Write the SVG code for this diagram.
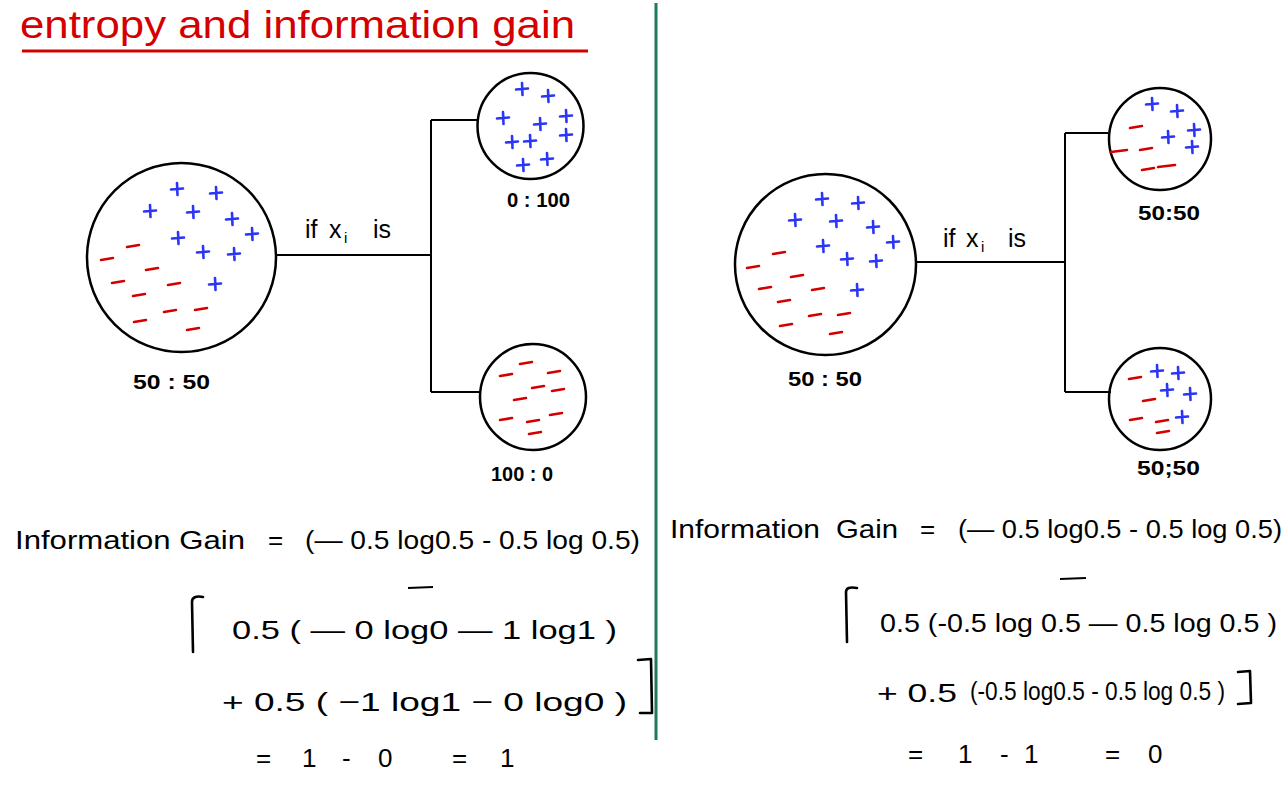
<svg xmlns="http://www.w3.org/2000/svg" xmlns:xlink="http://www.w3.org/1999/xlink" width="1288" height="785" viewBox="0 0 1288 785">
<style>
  .bg{fill:#ffffff}
  .circ{fill:none;stroke:#000;stroke-width:2.5}
  .conn{fill:none;stroke:#000;stroke-width:2}
  .pl{fill:none;stroke:#2b35f5;stroke-width:2.6;stroke-linecap:round}
  .mi{fill:none;stroke:#d40000;stroke-width:2.6;stroke-linecap:round}
  .title{font-family:"Liberation Sans",Arial,sans-serif;font-size:38px;fill:#d40000}
  .lbl{font-family:"Liberation Sans",Arial,sans-serif;font-size:21px;font-weight:bold;fill:#000}
  .cond{font-family:"Liberation Sans",Arial,sans-serif;font-size:25px;fill:#000}
  .f{font-family:"Liberation Sans",Arial,sans-serif;font-size:26px;fill:#000}
  .br{fill:none;stroke:#000;stroke-width:2.6;stroke-linecap:round;stroke-linejoin:round}
</style>
<defs>
  <path id="p" class="pl" d="M-6,0.5 L6,-0.5 M0,-6 L0.5,6"/>
  <path id="m" class="mi" d="M-6,1 L6,-1"/>
</defs>
<rect class="bg" x="0" y="0" width="1288" height="785"/>

<g id="title">
  <text class="title" x="20" y="38" textLength="555" lengthAdjust="spacingAndGlyphs">entropy and information gain</text>
  <line x1="22" y1="51" x2="588" y2="51" stroke="#d40000" stroke-width="3"/>
</g>

<line id="divider" x1="656" y1="3" x2="656" y2="740" stroke="#1f7a57" stroke-width="3"/>

<g id="connectors">
  <path class="conn" d="M276,255 H431 M431,120 V392 M431,120 H478 M431,392 H480"/>
  <path class="conn" d="M916,262 H1065 M1065,133 V392 M1065,133 H1108 M1065,392 H1111"/>
  <text class="cond" y="238"><tspan x="305">if</tspan><tspan x="329">x</tspan><tspan x="344" dy="5" font-size="15">i</tspan><tspan x="373" dy="-5">is</tspan></text>
  <text class="cond" y="247"><tspan x="943">if</tspan><tspan x="966">x</tspan><tspan x="981" dy="5" font-size="15">i</tspan><tspan x="1008" dy="-5">is</tspan></text>
</g>

<g id="left-root">
  <circle class="circ" cx="181.5" cy="257.5" r="94.5"/>
  <use href="#p" x="177" y="189"/><use href="#p" x="216" y="193"/><use href="#p" x="150" y="211"/>
  <use href="#p" x="193" y="212"/><use href="#p" x="232" y="219"/><use href="#p" x="252" y="234"/>
  <use href="#p" x="178" y="238"/><use href="#p" x="203" y="252"/><use href="#p" x="234" y="254"/>
  <use href="#p" x="215" y="284"/>
  <use href="#m" x="133" y="246"/><use href="#m" x="107" y="259"/><use href="#m" x="152" y="269"/>
  <use href="#m" x="118" y="282"/><use href="#m" x="174" y="284"/><use href="#m" x="139" y="295"/>
  <use href="#m" x="170" y="311"/><use href="#m" x="201" y="309"/><use href="#m" x="140" y="321"/>
  <use href="#m" x="193" y="329"/>
  <text class="lbl" x="133" y="389" textLength="77" lengthAdjust="spacingAndGlyphs">50 : 50</text>
</g>

<g id="left-leaf-top">
  <circle class="circ" cx="530.5" cy="126" r="53"/>
  <use href="#p" x="522" y="89"/><use href="#p" x="548" y="96"/><use href="#p" x="503" y="118"/>
  <use href="#p" x="566" y="116"/><use href="#p" x="540" y="124"/><use href="#p" x="566" y="135"/>
  <use href="#p" x="512" y="142"/><use href="#p" x="530" y="141"/><use href="#p" x="547" y="159"/>
  <use href="#p" x="523" y="165"/>
  <text class="lbl" x="507" y="207" textLength="63" lengthAdjust="spacingAndGlyphs">0 : 100</text>
</g>

<g id="left-leaf-bottom">
  <circle class="circ" cx="533" cy="397" r="53"/>
  <use href="#m" x="526" y="363"/><use href="#m" x="506" y="375"/><use href="#m" x="554" y="372"/>
  <use href="#m" x="538" y="387"/><use href="#m" x="558" y="390"/><use href="#m" x="520" y="399"/>
  <use href="#m" x="506" y="419"/><use href="#m" x="533" y="421"/><use href="#m" x="556" y="414"/>
  <use href="#m" x="535" y="433"/>
  <text class="lbl" x="491" y="481" textLength="62" lengthAdjust="spacingAndGlyphs">100 : 0</text>
</g>

<g id="right-root">
  <circle class="circ" cx="825.5" cy="264.5" r="90.5"/>
  <use href="#p" x="822" y="199"/><use href="#p" x="858" y="203"/><use href="#p" x="795" y="220"/>
  <use href="#p" x="836" y="221"/><use href="#p" x="873" y="227"/><use href="#p" x="893" y="242"/>
  <use href="#p" x="823" y="246"/><use href="#p" x="847" y="259"/><use href="#p" x="876" y="261"/>
  <use href="#p" x="857" y="290"/>
  <use href="#m" x="779" y="253"/><use href="#m" x="753" y="267"/><use href="#m" x="797" y="276"/>
  <use href="#m" x="765" y="288"/><use href="#m" x="818" y="289"/><use href="#m" x="784" y="301"/>
  <use href="#m" x="815" y="315"/><use href="#m" x="844" y="314"/><use href="#m" x="786" y="325"/>
  <use href="#m" x="836" y="333"/>
  <text class="lbl" x="788" y="386" textLength="74" lengthAdjust="spacingAndGlyphs">50 : 50</text>
</g>

<g id="right-leaf-top">
  <circle class="circ" cx="1160" cy="139" r="51"/>
  <use href="#p" x="1152" y="104"/><use href="#p" x="1177" y="111"/><use href="#p" x="1168" y="137"/>
  <use href="#p" x="1194" y="130"/><use href="#p" x="1192" y="147"/>
  <use href="#m" x="1136" y="127"/><path class="mi" d="M1111,152 L1127,150"/><use href="#m" x="1146" y="149"/>
  <use href="#m" x="1148" y="169"/><path class="mi" d="M1158,167 L1175,165"/>
  <text class="lbl" x="1138" y="220" textLength="62" lengthAdjust="spacingAndGlyphs">50:50</text>
</g>

<g id="right-leaf-bottom">
  <circle class="circ" cx="1160" cy="399" r="51"/>
  <use href="#p" x="1157" y="371"/><use href="#p" x="1178" y="373"/><use href="#p" x="1167" y="390"/>
  <use href="#p" x="1190" y="394"/><use href="#p" x="1182" y="417"/>
  <use href="#m" x="1135" y="378"/><use href="#m" x="1149" y="400"/><use href="#m" x="1136" y="419"/>
  <use href="#m" x="1162" y="421"/><use href="#m" x="1163" y="432"/>
  <text class="lbl" x="1137" y="475" textLength="63" lengthAdjust="spacingAndGlyphs">50;50</text>
</g>

<g id="left-formula">
  <text class="f" x="15" y="549" textLength="230" lengthAdjust="spacingAndGlyphs">Information Gain</text>
  <text class="f" x="268" y="549">=</text>
  <text class="f" x="305" y="549" textLength="335" lengthAdjust="spacingAndGlyphs">(— 0.5 log0.5 - 0.5 log 0.5)</text>
  <path class="br" d="M203,597 Q192,595 192,602 L193,652"/>
  <text class="f" x="232" y="639" textLength="385" lengthAdjust="spacingAndGlyphs">0.5 ( — 0  log0 — 1  log1 )</text>
  <line x1="408" y1="588" x2="433" y2="587" stroke="#000" stroke-width="2.2"/>
  <text class="f" x="222" y="711" textLength="405" lengthAdjust="spacingAndGlyphs">+ 0.5  ( −1 log1 − 0 log0 )</text>
  <path class="br" d="M638,660 L651,659 L652,713 L640,713"/>
  <text class="f" y="767"><tspan x="256">=</tspan><tspan x="302">1</tspan><tspan x="342">-</tspan><tspan x="378">0</tspan><tspan x="452">=</tspan><tspan x="500">1</tspan></text>
</g>

<g id="right-formula">
  <text class="f" x="670" y="538" textLength="150" lengthAdjust="spacingAndGlyphs">Information</text>
  <text class="f" x="836" y="538" textLength="62" lengthAdjust="spacingAndGlyphs">Gain</text>
  <text class="f" x="920" y="538">=</text>
  <text class="f" x="958" y="538" textLength="324" lengthAdjust="spacingAndGlyphs">(— 0.5 log0.5 - 0.5 log 0.5)</text>
  <path class="br" d="M857,588 Q846,586 846,592 L847,642"/>
  <text class="f" x="880" y="632" textLength="397" lengthAdjust="spacingAndGlyphs">0.5 (-0.5 log 0.5 — 0.5 log 0.5 )</text>
  <line x1="1060" y1="579" x2="1086" y2="578" stroke="#000" stroke-width="2.2"/>
  <text class="f" x="877" y="702" textLength="80" lengthAdjust="spacingAndGlyphs">+ 0.5</text>
  <text class="f" x="970" y="700" font-size="20" textLength="255" lengthAdjust="spacingAndGlyphs">(-0.5 log0.5 - 0.5 log 0.5 )</text>
  <path class="br" d="M1238,672 L1250,671 L1251,703 L1238,704"/>
  <text class="f" y="763"><tspan x="908">=</tspan><tspan x="958">1</tspan><tspan x="1000">-</tspan><tspan x="1024">1</tspan><tspan x="1105">=</tspan><tspan x="1148">0</tspan></text>
</g>
</svg>
